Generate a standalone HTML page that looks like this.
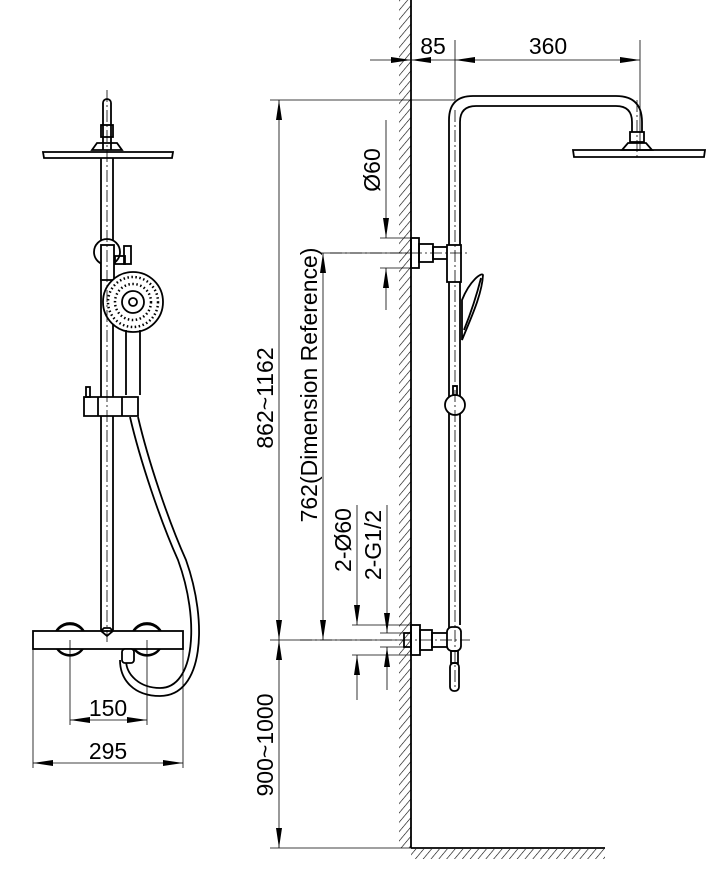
<!DOCTYPE html>
<html><head><style>html,body{margin:0;padding:0;background:#fff}svg{display:block}</style></head>
<body>
<svg width="723" height="888" viewBox="0 0 723 888" xmlns="http://www.w3.org/2000/svg" font-family="Liberation Sans, sans-serif">
<defs>
<pattern id="h" width="6" height="6" patternUnits="userSpaceOnUse" patternTransform="rotate(40)">
<line x1="0" y1="0" x2="0" y2="6" stroke="#000" stroke-width="1.2"/></pattern>
<marker id="a" viewBox="0 0 20 10" refX="20" refY="5" markerWidth="20" markerHeight="10" markerUnits="userSpaceOnUse" orient="auto-start-reverse"><path d="M0,2 L20,5 L0,8z" fill="#000"/></marker>
</defs>
<g stroke="#000" fill="none" stroke-width="1.8">
<!-- LEFT -->
<path d="M103,150 V103 a4,4 0 0 1 8,0 V150" />
<rect x="101" y="125" width="12" height="12"/>
<path d="M97,143 L117,143 L122,150 L92,150z"/>
<path d="M43,152 L173,152 L172,158 L44,158z" fill="#fff"/>
<line x1="101" y1="158" x2="101" y2="630"/><line x1="113" y1="158" x2="113" y2="630"/>
<circle cx="107" cy="252" r="13" fill="#fff"/>
<rect x="101" y="245" width="13" height="35" fill="#fff"/>
<rect x="115" y="256" width="10" height="8"/><rect x="124" y="246" width="7" height="18"/>
<circle cx="133" cy="302" r="30" fill="#fff"/>
<circle cx="133" cy="302" r="11"/><circle cx="133" cy="302" r="4"/>
<circle cx="133" cy="302" r="25" stroke-dasharray="1.5 2.5" stroke-width="2.5"/>
<circle cx="133" cy="302" r="18" stroke-dasharray="1.5 2.5" stroke-width="2.5"/>
<path d="M126,330 V395 M140,330 V395"/>
<path d="M84,397 H138 V416 H84z" fill="#fff"/>
<line x1="98" y1="397" x2="98" y2="416"/><line x1="122" y1="397" x2="122" y2="416"/>
<rect x="86" y="387" width="4" height="10"/>
<path d="M130,417 C140,460 160,520 178,560 C200,620 195,688 160,688 C140,688 126,675 126,660" />
<path d="M138,417 C148,460 168,520 186,560 C208,622 204,696 160,696 C134,696 120,680 120,660" />
<circle cx="70" cy="639" r="16" fill="#fff"/><circle cx="147" cy="639" r="16" fill="#fff"/>
<rect x="33" y="631" width="150" height="18" fill="#fff"/>
<path d="M57,631 A16,16 0 0 1 83,631 M57,649 A16,16 0 0 0 83,649 M134,631 A16,16 0 0 1 160,631 M134,649 A16,16 0 0 0 160,649"/>
<path d="M101,631 L104,628 H110 L113,631 L107,636z"/>
<rect x="122" y="649" width="12" height="14" rx="3" fill="#fff"/>
<g stroke-width="0.8"><line x1="70" y1="640" x2="70" y2="725"/><line x1="147" y1="640" x2="147" y2="725"/>
<line x1="33" y1="640" x2="33" y2="768"/><line x1="183" y1="640" x2="183" y2="768"/>
<line x1="70" y1="720" x2="147" y2="720" marker-start="url(#a)" marker-end="url(#a)"/>
<line x1="33" y1="763" x2="183" y2="763" marker-start="url(#a)" marker-end="url(#a)"/>
<line x1="107" y1="90" x2="107" y2="645" stroke-dasharray="12 3 2 3"/></g>
<!-- RIGHT wall -->
<rect x="399" y="0" width="12" height="848" fill="url(#h)" stroke="none"/>
<rect x="411" y="849" width="194" height="10" fill="url(#h)" stroke="none"/>
<line x1="411" y1="0" x2="411" y2="848"/><line x1="411" y1="848" x2="605" y2="848"/>
<!-- pipe -->
<path d="M449,640 V120 Q449,96 473,96 H616 Q642,96 642,122 V132"/>
<path d="M460,245 V122 Q460,106 476,106 H616 Q632,106 632,122 V132"/>
<line x1="460" y1="282" x2="460" y2="625"/>
<rect x="630" y="132" width="14" height="10"/>
<path d="M628,143 L646,143 L652,150 L622,150z"/>
<path d="M573,150 L705,150 L704,157 L574,157z"/>
<rect x="411" y="238" width="8" height="30"/><rect x="419" y="244" width="14" height="18"/><rect x="433" y="247" width="15" height="12"/>
<rect x="447" y="245" width="14" height="37" fill="#fff"/>
<path d="M462,300 C470,280 482,272 483,275 C482,295 470,320 462,340z"/>
<path d="M464,330 C472,310 478,290 481,278"/>
<circle cx="455" cy="405" r="10" fill="#fff"/><rect x="453" y="386" width="4" height="9"/>
<rect x="411" y="625" width="9" height="30"/><rect x="420" y="630" width="12" height="20"/><rect x="404" y="633" width="7" height="14"/>
<rect x="432" y="633" width="16" height="14"/>
<rect x="447" y="627" width="14" height="24" rx="5" fill="#fff"/>
<rect x="451" y="651" width="7" height="12"/><rect x="450" y="663" width="9" height="28" rx="4"/>
<!-- dims -->
<g stroke-width="0.8">
<line x1="270" y1="100" x2="455" y2="100"/><line x1="270" y1="640" x2="411" y2="640"/>
<line x1="270" y1="848" x2="411" y2="848"/><line x1="320" y1="253" x2="411" y2="253"/>
<line x1="279" y1="100" x2="279" y2="640" marker-start="url(#a)" marker-end="url(#a)"/>
<line x1="279" y1="640" x2="279" y2="848" marker-start="url(#a)" marker-end="url(#a)"/>
<line x1="323" y1="253" x2="323" y2="640" marker-start="url(#a)" marker-end="url(#a)"/>
<line x1="380" y1="238" x2="411" y2="238"/><line x1="380" y1="268" x2="411" y2="268"/>
<line x1="386" y1="120" x2="386" y2="238" marker-end="url(#a)"/><line x1="386" y1="310" x2="386" y2="268" marker-end="url(#a)"/>
<line x1="352" y1="625" x2="411" y2="625"/><line x1="352" y1="655" x2="411" y2="655"/>
<line x1="380" y1="633" x2="404" y2="633"/><line x1="380" y1="647" x2="404" y2="647"/>
<line x1="357" y1="505" x2="357" y2="625" marker-end="url(#a)"/><line x1="357" y1="700" x2="357" y2="655" marker-end="url(#a)"/>
<line x1="387" y1="505" x2="387" y2="633" marker-end="url(#a)"/><line x1="387" y1="690" x2="387" y2="647" marker-end="url(#a)"/>
<line x1="455" y1="40" x2="455" y2="100"/><line x1="640" y1="40" x2="640" y2="150"/>
<line x1="370" y1="60" x2="411" y2="60" marker-end="url(#a)"/><line x1="455" y1="60" x2="640" y2="60" marker-start="url(#a)" marker-end="url(#a)"/>
<line x1="455" y1="60" x2="411" y2="60" marker-end="url(#a)"/>
<g stroke-dasharray="12 3 2 3"><line x1="455" y1="110" x2="455" y2="690"/><line x1="637" y1="100" x2="637" y2="160"/>
<line x1="330" y1="253" x2="470" y2="253"/><line x1="300" y1="640" x2="470" y2="640"/></g>
</g>
</g>
<g font-size="23" fill="#000">
<text x="108" y="716" text-anchor="middle">150</text><text x="108" y="759" text-anchor="middle">295</text>
<text x="433" y="54" text-anchor="middle">85</text><text x="548" y="54" text-anchor="middle">360</text>
<text transform="translate(273,398) rotate(-90)" text-anchor="middle">862~1162</text>
<text transform="translate(317,385) rotate(-90)" text-anchor="middle">762(Dimension Reference)</text>
<text transform="translate(380,170) rotate(-90)" text-anchor="middle">Ø60</text>
<text transform="translate(351,540) rotate(-90)" text-anchor="middle">2-Ø60</text>
<text transform="translate(381,545) rotate(-90)" text-anchor="middle">2-G1/2</text>
<text transform="translate(273,745) rotate(-90)" text-anchor="middle">900~1000</text>
</g>
</svg>
</body></html>
